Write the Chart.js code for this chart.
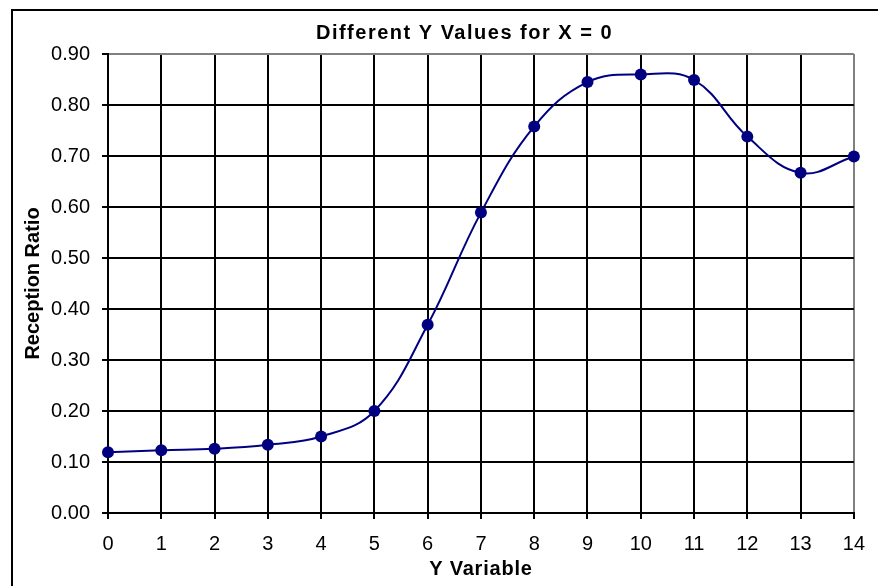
<!DOCTYPE html>
<html>
<head>
<meta charset="utf-8">
<script src="https://cdn.jsdelivr.net/npm/chart.js@4/dist/chart.umd.min.js"></script>
<style>
  html, body { margin: 0; padding: 0; background: #ffffff; }
  canvas { display: block; }
</style>
</head>
<body>
<canvas id="c" width="878" height="586"></canvas>
<script>
// ---- data ----
const chartTitle = 'Different Y Values for X = 0';
const xAxisTitle = 'Y Variable';
const yAxisTitle = 'Reception Ratio';
const yVariable = ['0','1','2','3','4','5','6','7','8','9','10','11','12','13','14'];
const receptionRatio = [0.119, 0.123, 0.126, 0.134, 0.150, 0.200, 0.369, 0.589, 0.758, 0.845, 0.860, 0.849, 0.738, 0.667, 0.699];
const yMin = 0, yMax = 0.9, yStep = 0.1;

const FONT = "'Liberation Sans', Arial, sans-serif";
Chart.defaults.font.family = FONT;
Chart.defaults.color = '#000000';

const framePlugin = {
  id: 'frame',
  beforeDraw(chart) {
    const ctx = chart.ctx;
    ctx.save();
    ctx.fillStyle = '#ffffff';
    ctx.fillRect(0, 0, chart.width, chart.height);
    ctx.restore();
  },
  afterDraw(chart) {
    const ctx = chart.ctx;
    ctx.save();
    ctx.strokeStyle = '#000000';
    ctx.lineWidth = 2;
    ctx.strokeRect(12, 10, 2000, 2000);
    ctx.restore();
  }
};

const chart = new Chart(document.getElementById('c'), {
  type: 'line',
  data: {
    labels: yVariable,
    datasets: [{
      data: receptionRatio,
      borderColor: '#000080',
      backgroundColor: '#000080',
      borderWidth: 2,
      pointRadius: 6,
      pointHoverRadius: 6,
      pointBackgroundColor: '#000080',
      pointBorderColor: '#000080',
      pointBorderWidth: 0,
      tension: 0.4,
      fill: false,
      clip: false
    }]
  },
  options: {
    responsive: false,
    animation: false,
    events: [],
    layout: { padding: { left: 11, right: 20, top: 0, bottom: 0 } },
    plugins: {
      legend: { display: false },
      tooltip: { enabled: false },
      title: {
        display: true,
        text: chartTitle,
        color: '#000000',
        font: { family: FONT, size: 20, weight: 'bold', lineHeight: 1.2 },
        padding: { top: 21, bottom: 9 }
      }
    },
    scales: {
      x: {
        type: 'category',
        offset: false,
        afterFit: (s) => { s.height = 73; },
        grid: {
          color: (c) => (c.index === yVariable.length - 1 ? '#808080' : '#000000'),
          lineWidth: 2,
          tickLength: 6,
          tickColor: '#000000'
        },
        border: { display: true, color: '#000000', width: 2 },
        ticks: {
          color: '#000000',
          font: { family: FONT, size: 20, lineHeight: 1.2 },
          padding: 13,
          maxRotation: 0,
          autoSkip: false
        },
        title: {
          display: true,
          text: xAxisTitle,
          color: '#000000',
          font: { family: FONT, size: 20, weight: 'bold', lineHeight: 1.2 },
          padding: { top: 1, bottom: 5 }
        }
      },
      y: {
        min: yMin,
        max: yMax,
        afterFit: (s) => { s.width = 97; },
        grid: {
          color: (c) => (c.tick && Math.abs(c.tick.value - yMax) < 1e-9 ? '#808080' : '#000000'),
          lineWidth: 2,
          tickLength: 6,
          tickColor: '#000000'
        },
        border: { display: true, color: '#000000', width: 2 },
        ticks: {
          stepSize: yStep,
          color: '#000000',
          font: { family: FONT, size: 20, lineHeight: 1.2 },
          padding: 12,
          callback: (v) => Number(v).toFixed(2)
        },
        title: {
          display: true,
          text: yAxisTitle,
          color: '#000000',
          font: { family: FONT, size: 20, weight: 'bold', lineHeight: 1.2 },
          padding: { top: 10, bottom: 6 }
        }
      }
    }
  },
  plugins: [framePlugin]
});

// wider tracking (and a small shift for the chart title), isolated with save/restore
function withSpacing(obj, method, spacing, dx) {
  if (!obj || typeof obj[method] !== 'function') return;
  const orig = obj[method];
  obj[method] = function (...args) {
    const ctx = chart.ctx;
    ctx.save();
    if ('letterSpacing' in ctx) ctx.letterSpacing = spacing;
    if (dx) ctx.translate(dx, 0);
    const r = orig.apply(this, args);
    ctx.restore();
    return r;
  };
}
withSpacing(chart.titleBlock, 'draw', '1.5px', 30);
withSpacing(chart.scales.x, 'drawTitle', '0.8px', 0);
chart.draw();
</script>
</body>
</html>
